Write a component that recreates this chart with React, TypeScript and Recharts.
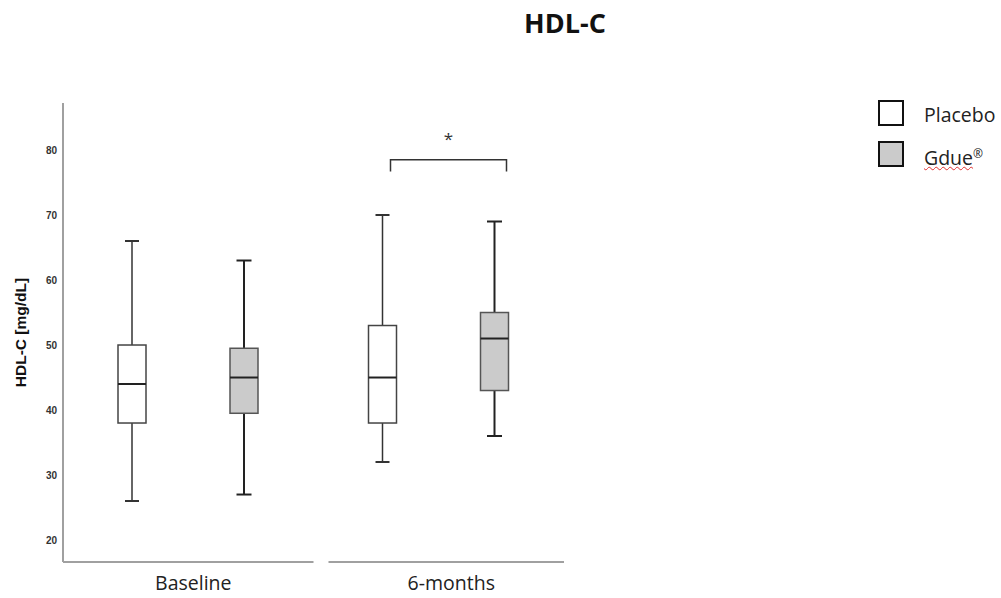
import React from 'react';
import { ComposedChart, Bar, XAxis, YAxis, Legend } from 'recharts';

const categories = ['Baseline', '6-months'];
const placeboMin = [26, 32];
const placeboQ1 = [38, 38];
const placeboMedian = [44, 45];
const placeboQ3 = [50, 53];
const placeboMax = [66, 70];
const gdueMin = [27, 36];
const gdueQ1 = [39.5, 43];
const gdueMedian = [45, 51];
const gdueQ3 = [49.5, 55];
const gdueMax = [63, 69];
const sigTop: (number | null)[] = [null, 78.5];
const sigEnd: (number | null)[] = [null, 76.7];
const sigText = ['', '*'];
const yTicks = [20, 30, 40, 50, 60, 70, 80];
const yDomain = [16.62, 87.23];
const legendLabels = ['Placebo', 'Gdue'];
const legendMark = ['', '®'];
const titleText = 'HDL-C';
const yLabelText = 'HDL-C [mg/dL]';

const BAR_SIZE = 28;
const BAR_GAP = 84;
const PLOT_LEFT = 63;
const PLOT_RIGHT = 564;
const BAND = (PLOT_RIGHT - PLOT_LEFT) / categories.length;

const data = categories.map((name, i) => ({
  name,
  placebo: { min: placeboMin[i], q1: placeboQ1[i], med: placeboMedian[i], q3: placeboQ3[i], max: placeboMax[i] },
  gdue: { min: gdueMin[i], q1: gdueQ1[i], med: gdueMedian[i], q3: gdueQ3[i], max: gdueMax[i] },
  sigTop: sigTop[i],
  sigEnd: sigEnd[i],
  sigText: sigText[i],
}));

type GroupStyle = { fill: string; boxStroke: string; whisker: string; whiskerW: number; cap: number };
const styles: Record<string, GroupStyle> = {
  placebo: { fill: '#ffffff', boxStroke: '#444444', whisker: '#333333', whiskerW: 1.5, cap: 14 },
  gdue: { fill: '#cbcbcb', boxStroke: '#555555', whisker: '#222222', whiskerW: 2, cap: 15 },
};

const makeBox = (group: 'placebo' | 'gdue') => (props: any) => {
  const { x, y, width, height, payload } = props;
  const s = payload[group];
  const st = styles[group];
  const top = Math.min(y, y + height);
  const h = Math.abs(height);
  const k = h / (s.max - s.min);
  const py = (v: number) => top + (s.max - v) * k;
  const cx = x + width / 2;
  const els: any[] = [];
  els.push(<line key="wt" x1={cx} x2={cx} y1={py(s.max)} y2={py(s.q3)} stroke={st.whisker} strokeWidth={st.whiskerW} />);
  els.push(<line key="wb" x1={cx} x2={cx} y1={py(s.q1)} y2={py(s.min)} stroke={st.whisker} strokeWidth={st.whiskerW} />);
  els.push(<line key="ct" x1={cx - st.cap / 2} x2={cx + st.cap / 2} y1={py(s.max)} y2={py(s.max)} stroke={st.whisker} strokeWidth={2} />);
  els.push(<line key="cb" x1={cx - st.cap / 2} x2={cx + st.cap / 2} y1={py(s.min)} y2={py(s.min)} stroke={st.whisker} strokeWidth={2} />);
  els.push(<rect key="box" x={x} y={py(s.q3)} width={width} height={py(s.q1) - py(s.q3)} fill={st.fill} stroke={st.boxStroke} strokeWidth={1.5} />);
  els.push(<line key="med" x1={x} x2={x + width} y1={py(s.med)} y2={py(s.med)} stroke="#222222" strokeWidth={2} />);
  if (group === 'gdue' && payload.sigTop != null) {
    const lx = cx - (BAR_SIZE + BAR_GAP) + 8;
    const rx = cx + 12;
    const yt = py(payload.sigTop);
    const ye = py(payload.sigEnd);
    els.push(<path key="br" d={`M${lx},${ye} L${lx},${yt} L${rx},${yt} L${rx},${ye}`} fill="none" stroke="#333333" strokeWidth={1.5} />);
    els.push(<text key="st" x={(lx + rx) / 2} y={yt - 15} textAnchor="middle" fontFamily="Open Sans" fontSize={17} fill="#333333">{payload.sigText}</text>);
  }
  return <g>{els}</g>;
};

const XTick = (props: any) => {
  const { x, y, payload, index } = props;
  const start = index === 0 ? x - BAND / 2 : x - BAND / 2 + 15;
  const end = x + BAND / 2;
  return (
    <g>
      <line x1={start} x2={end} y1={y} y2={y} stroke="#a0a0a0" strokeWidth={2} />
      <text x={(start + end) / 2 + 5} y={y + 28} textAnchor="middle" fontFamily="Open Sans" fontSize={19.5} fill="#222222">{payload.value}</text>
    </g>
  );
};

const renderLegend = () => (
  <div style={{ fontFamily: 'Open Sans', fontSize: 19.5, color: '#222' }}>
    {legendLabels.map((lab, i) => (
      <div key={lab} style={{ display: 'flex', alignItems: 'center', height: 26, marginBottom: 15 }}>
        <div style={{ width: 26, height: 26, boxSizing: 'border-box', border: '2.5px solid #111', background: i === 0 ? styles.placebo.fill : styles.gdue.fill }} />
        <span style={{ marginLeft: 20, lineHeight: '26px', whiteSpace: 'nowrap', position: 'relative', top: 2 }}>
          <span style={i === 1 ? { textDecoration: 'underline wavy #e03030', textDecorationThickness: 1, textUnderlineOffset: 1 } : {}}>{lab}</span>
          {legendMark[i] ? <span style={{ fontSize: 12, verticalAlign: 7 }}>{legendMark[i]}</span> : null}
        </span>
      </div>
    ))}
  </div>
);

export default function App() {
  return (
    <div style={{ position: 'absolute', left: 0, top: 0, width: 1001, height: 598, background: '#fff' }}>
      <svg style={{ position: 'absolute', left: 0, top: 0 }} width={1001} height={60}>
        <text x={565} y={33} textAnchor="middle" fontFamily="Open Sans" fontWeight="bold" fontSize={27} fill="#111">{titleText}</text>
      </svg>
      <ComposedChart width={1001} height={598} data={data} margin={{ top: 103, right: 1001 - PLOT_RIGHT, bottom: 6, left: 0 }} barGap={BAR_GAP} barSize={BAR_SIZE}>
        <XAxis dataKey="name" axisLine={false} tickLine={false} tickSize={0} tickMargin={0} height={30} tick={<XTick />} interval={0} />
        <YAxis
          type="number"
          domain={yDomain}
          ticks={yTicks}
          allowDataOverflow
          width={PLOT_LEFT}
          axisLine={{ stroke: '#a0a0a0', strokeWidth: 2 }}
          tickLine={false}
          tickSize={0}
          tickMargin={6}
          tick={{ fontFamily: 'Liberation Sans', fontWeight: 'bold', fontSize: 10, fill: '#333' }}
          label={{
            content: (p: any) => {
              const vb = p.viewBox || { x: 0, y: 103, width: 63, height: 459 };
              const cx = 26;
              const cy = vb.y + vb.height / 2;
              return (
                <text x={cx} y={cy} transform={`rotate(-90, ${cx}, ${cy})`} textAnchor="middle" fontFamily="Liberation Sans" fontWeight="bold" fontSize={15.5} fill="#111">{yLabelText}</text>
              );
            },
          }}
        />
        <Legend layout="vertical" align="center" verticalAlign="middle" content={renderLegend} wrapperStyle={{ position: 'absolute', left: 878, top: 100, width: 123 }} />
        <Bar dataKey={(d: any) => [d.placebo.min, d.placebo.max]} name="Placebo" isAnimationActive={false} shape={makeBox('placebo')} />
        <Bar dataKey={(d: any) => [d.gdue.min, d.gdue.max]} name="Gdue®" isAnimationActive={false} shape={makeBox('gdue')} />
      </ComposedChart>
    </div>
  );
}
